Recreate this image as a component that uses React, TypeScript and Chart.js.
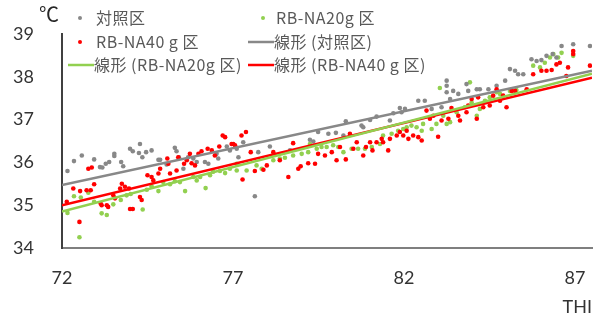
import React, { useEffect, useRef } from "react";
import { Chart, registerables } from "chart.js";

Chart.register(...registerables);

// ---- Data ----
const xTicks = [72, 77, 82, 87];
const yTicks = [34, 35, 36, 37, 38, 39];

// 対照区 (control) points [THI, ℃]
const controlPts: [number, number][] = [
  [72.16, 35.8], [72.35, 36.03], [72.58, 36.16], [72.94, 36.07], [73.11, 35.89], [73.18, 35.88],
  [73.28, 35.97], [73.38, 36.01], [73.53, 36.2], [73.53, 36.15], [73.73, 36.01], [73.79, 35.91],
  [73.99, 36.32], [74.07, 36.26], [74.28, 36.43], [74.25, 36.22], [74.35, 36.12], [74.46, 36.24],
  [74.62, 36.28], [74.82, 36.06], [74.87, 36.06], [75.06, 35.95], [75.3, 36.34], [75.35, 36.26],
  [75.42, 36.12], [75.55, 35.85], [75.69, 36.12], [75.84, 36.09], [75.94, 36.01], [76.18, 36.01],
  [76.28, 35.97], [76.52, 36.2], [76.57, 36.09], [76.82, 36.37], [76.91, 36.28], [77.11, 36.32],
  [77.16, 36.12], [77.3, 36.47], [77.74, 36.24], [78.08, 36.37], [78.67, 36.28], [79.25, 36.53],
  [79.35, 36.49], [79.49, 36.71], [79.79, 36.67], [80.01, 36.69], [80.23, 36.63], [80.3, 36.96],
  [80.76, 36.86], [80.81, 36.82], [81.01, 36.99], [81.2, 37.07], [81.59, 36.98], [81.69, 37.15],
  [81.88, 37.27], [81.93, 37.17], [77.64, 35.21], [82.03, 37.25], [82.42, 37.44], [82.61, 37.44],
  [82.81, 37.25], [83.1, 37.29], [83.25, 37.91], [83.25, 37.79], [83.25, 37.64], [83.35, 37.48],
  [83.44, 37.67], [83.59, 37.6], [83.83, 37.83], [83.88, 37.67], [84.13, 37.71], [84.22, 37.71],
  [84.47, 37.71], [84.71, 37.79], [84.96, 37.91], [85.1, 38.18], [85.25, 38.14], [85.34, 38.06],
  [85.49, 38.06], [85.73, 38.41], [85.88, 38.37], [86.02, 38.39], [86.17, 38.49], [86.35, 38.53],
  [86.46, 38.45], [86.61, 38.72], [86.95, 38.76], [87.44, 38.72],
];

// RB-NA20g 区 points
const na20Pts: [number, number][] = [
  [72.16, 34.82], [72.35, 35.21], [72.55, 35.18], [72.51, 34.25], [72.77, 35.29], [72.94, 35.08],
  [73.16, 34.81], [73.31, 34.77], [73.5, 35.02], [73.72, 35.12], [73.89, 35.23], [74.01, 35.26],
  [74.36, 34.9], [74.48, 35.36], [74.62, 35.44], [74.82, 35.33], [74.96, 35.54], [75.16, 35.49],
  [75.3, 35.56], [75.45, 35.54], [75.6, 35.33], [75.84, 35.66], [75.94, 35.58], [76.04, 35.66],
  [76.2, 35.4], [76.33, 35.7], [76.42, 35.78], [76.62, 35.8], [76.77, 35.75], [76.91, 35.85],
  [77.11, 35.81], [77.11, 35.97], [77.4, 35.81], [77.69, 35.93], [77.84, 35.85], [78.18, 36.05],
  [78.37, 36.09], [78.52, 36.11], [78.76, 36.16], [79.01, 36.2], [79.2, 36.24], [79.25, 36.43],
  [79.45, 36.32], [79.59, 36.36], [79.74, 36.36], [79.93, 36.4], [80.08, 36.36], [80.23, 36.24],
  [80.47, 36.32], [80.66, 36.32], [80.86, 36.32], [81.06, 36.36], [81.3, 36.43], [81.39, 36.63],
  [81.64, 36.67], [81.83, 36.74], [81.98, 36.78], [82.08, 36.82], [82.22, 36.86], [82.37, 36.82],
  [82.52, 36.74], [82.81, 36.78], [82.95, 36.9], [83.15, 37.09], [83.35, 36.94], [83.54, 37.17],
  [83.78, 37.29], [83.93, 37.87], [83.05, 37.74], [83.98, 37.4], [84.13, 37.09], [84.22, 37.25],
  [84.37, 37.44], [84.51, 37.52], [84.71, 37.64], [84.81, 37.6], [85.1, 37.67], [85.29, 37.69],
  [85.78, 38.26], [85.98, 38.22], [86.12, 38.33], [86.27, 38.45], [86.37, 38.53], [86.51, 38.45],
  [86.61, 38.56], [86.95, 38.49], [83.25, 36.9], [82.56, 36.9],
];

// RB-NA40 g 区 points
const na40Pts: [number, number][] = [
  [72.14, 35.08], [72.33, 35.39], [72.53, 35.33], [72.51, 34.61], [72.72, 35.35], [72.77, 35.85],
  [72.87, 35.88], [72.84, 35.35], [72.94, 35.49], [73.13, 35.04], [73.16, 35.0], [73.31, 35.0],
  [73.35, 34.96], [73.5, 35.23], [73.55, 35.16], [73.7, 35.39], [73.75, 35.5], [73.84, 35.43],
  [73.96, 35.39], [73.99, 34.91], [74.07, 34.91], [74.28, 35.19], [74.33, 35.12], [74.5, 35.7],
  [74.62, 35.66], [74.67, 35.58], [74.82, 35.74], [74.87, 35.85], [75.08, 36.09], [75.11, 35.97],
  [75.16, 35.74], [75.35, 35.81], [75.4, 36.12], [75.57, 35.97], [75.65, 36.05], [75.74, 36.2],
  [75.79, 35.98], [75.89, 35.93], [75.99, 36.2], [76.08, 36.26], [76.26, 36.32], [76.38, 36.28],
  [76.47, 36.16], [76.6, 36.37], [76.7, 36.63], [76.77, 36.59], [76.96, 36.43], [77.06, 36.4],
  [77.01, 36.43], [77.25, 36.63], [77.38, 36.71], [77.52, 36.24], [77.64, 35.8], [77.28, 35.6],
  [77.89, 35.83], [77.99, 35.93], [78.18, 36.24], [78.37, 36.05], [78.62, 35.66], [78.76, 36.45],
  [78.91, 35.85], [78.98, 35.91], [79.2, 35.98], [79.4, 35.97], [79.49, 36.2], [79.69, 36.16],
  [79.89, 36.24], [80.03, 36.05], [80.13, 36.36], [80.3, 36.07], [80.42, 36.67], [80.52, 36.32],
  [80.62, 36.47], [80.81, 36.16], [80.89, 36.36], [81.01, 36.47], [81.08, 36.28], [81.2, 36.47],
  [81.35, 36.55], [81.39, 36.47], [81.54, 36.28], [81.59, 36.55], [81.79, 36.63], [81.88, 36.71],
  [81.98, 36.63], [82.08, 36.74], [82.13, 36.55], [82.27, 36.63], [82.42, 36.59], [82.52, 36.51],
  [82.66, 37.21], [82.76, 37.02], [82.86, 37.09], [83.0, 36.6], [83.1, 36.98], [83.3, 37.02],
  [83.39, 37.27], [83.59, 37.09], [83.64, 36.98], [83.83, 37.17], [83.88, 37.33], [83.98, 37.48],
  [84.13, 37.02], [84.17, 37.52], [84.32, 37.29], [84.51, 37.33], [84.61, 37.56], [84.71, 37.71],
  [84.81, 37.44], [84.9, 37.56], [85.0, 37.29], [85.15, 37.67], [85.25, 37.67], [85.59, 37.71],
  [85.78, 38.06], [86.02, 38.14], [86.17, 38.14], [86.32, 38.16], [86.46, 38.29], [86.56, 38.33],
  [86.75, 38.02], [86.8, 38.22], [86.95, 38.6], [86.95, 38.53], [87.44, 38.26],
];

// Linear trend lines (endpoints)
const trendX = [72, 87.5];
const controlTrend = [35.47, 38.14];
const na20Trend = [34.85, 38.07];
const na40Trend = [35.0, 37.98];

const labels = {
  control: "対照区",
  na20: "RB-NA20g 区",
  na40: "RB-NA40 g 区",
  controlTrend: "線形 (対照区)",
  na20Trend: "線形 (RB-NA20g 区)",
  na40Trend: "線形 (RB-NA40 g 区)",
};

const GRAY = "#888888";
const GREEN = "#92d050";
const RED = "#ff0000";

const toXY = (pts: [number, number][]) => pts.map(([x, y]) => ({ x, y }));
const trendXY = (ys: number[]) => trendX.map((x, i) => ({ x, y: ys[i] }));

const legendPlugin = {
  id: "customLegend",
  afterDraw(chart: any) {
    const ctx = chart.ctx as any;
    const ds = chart.data.datasets;
    ctx.save();
    ctx.font = '16px "Noto Sans CJK JP"';
    ctx.letterSpacing = "0.5px";
    ctx.textBaseline = "middle";
    ctx.textAlign = "left";
    // layout: [datasetIndex, col, row]
    const items: [number, number, number][] = [
      [0, 0, 0], [1, 1, 0], [2, 0, 1], [3, 1, 1], [4, 0, 2], [5, 1, 2],
    ];
    const colMarker = [80, 263];
    const colText = [96, 276];
    const rowY = [18, 42, 65];
    for (const [di, col, row] of items) {
      const d = ds[di];
      const y = rowY[row];
      if (d.showLine) {
        ctx.strokeStyle = d.borderColor;
        ctx.lineWidth = 2.5;
        ctx.beginPath();
        ctx.moveTo(colText[col] - 28, y);
        ctx.lineTo(colText[col] - 2, y);
        ctx.stroke();
        ctx.fillStyle = "#595959";
        ctx.fillText(d.label, colText[col] - 2, y);
      } else {
        ctx.fillStyle = d.backgroundColor;
        ctx.beginPath();
        ctx.arc(colMarker[col], y, 2, 0, Math.PI * 2);
        ctx.fill();
        ctx.fillStyle = "#595959";
        ctx.fillText(d.label, colText[col], y);
      }
    }
    // unit label
    ctx.letterSpacing = "0px";
    ctx.font = '20px "Noto Sans CJK JP"';
    ctx.fillStyle = "#262626";
    ctx.fillText("℃", 39, 14);
    ctx.restore();
  },
};

export default function App() {
  const ref = useRef<HTMLCanvasElement | null>(null);
  useEffect(() => {
    if (!ref.current) return;
    const chart = new Chart(ref.current, {
      type: "scatter",
      data: {
        datasets: [
          { label: labels.control, data: toXY(controlPts), backgroundColor: GRAY, borderColor: GRAY, pointRadius: 2.3, pointBorderWidth: 0, order: 2 } as any,
          { label: labels.na20, data: toXY(na20Pts), backgroundColor: GREEN, borderColor: GREEN, pointRadius: 2.3, pointBorderWidth: 0, order: 2 } as any,
          { label: labels.na40, data: toXY(na40Pts), backgroundColor: RED, borderColor: RED, pointRadius: 2.3, pointBorderWidth: 0, order: 1 } as any,
          { label: labels.controlTrend, data: trendXY(controlTrend), showLine: true, borderColor: "#888888", backgroundColor: "#888888", borderWidth: 2.5, pointRadius: 0, order: 0 } as any,
          { label: labels.na20Trend, data: trendXY(na20Trend), showLine: true, borderColor: GREEN, backgroundColor: GREEN, borderWidth: 2.5, pointRadius: 0, order: 0 } as any,
          { label: labels.na40Trend, data: trendXY(na40Trend), showLine: true, borderColor: RED, backgroundColor: RED, borderWidth: 2.5, pointRadius: 0, order: 0 } as any,
        ],
      },
      options: {
        responsive: false,
        animation: false,
        layout: { padding: { left: 0, right: 8, top: 34, bottom: 0 } },
        plugins: { legend: { display: false }, tooltip: { enabled: false } },
        scales: {
          x: {
            type: "linear",
            min: 72,
            max: 87.5,
            afterBuildTicks: (s: any) => { s.ticks = xTicks.map((v) => ({ value: v })); },
            afterFit: (s: any) => { s.height = 72; s.paddingLeft = 0; s.paddingRight = 0; },
            grid: { display: false, drawTicks: false },
            border: { display: true, color: "#7f7f7f", width: 2 },
            ticks: { padding: 19, color: "#333333", font: { family: "Lato", size: 18 } },
            title: { display: true, text: "THI", align: "end", color: "#333333", font: { family: "Lato", size: 18 }, padding: { top: 0, bottom: 2 } },
          },
          y: {
            type: "linear",
            min: 34,
            max: 39,
            afterBuildTicks: (s: any) => { s.ticks = yTicks.map((v) => ({ value: v })); },
            afterFit: (s: any) => { s.width = 62; s.paddingTop = 0; s.paddingBottom = 0; },
            grid: { display: false, drawTicks: false },
            border: { display: true, color: "#404040", width: 2 },
            ticks: { padding: 28, color: "#333333", font: { family: "Lato", size: 18 } },
          },
        },
      },
      plugins: [legendPlugin],
    } as any);
    return () => chart.destroy();
  }, []);
  return (
    <div style={{ position: "absolute", left: 0, top: 0, width: 600, height: 320, background: "#fff" }}>
      <canvas ref={ref} width={600} height={320} />
    </div>
  );
}
